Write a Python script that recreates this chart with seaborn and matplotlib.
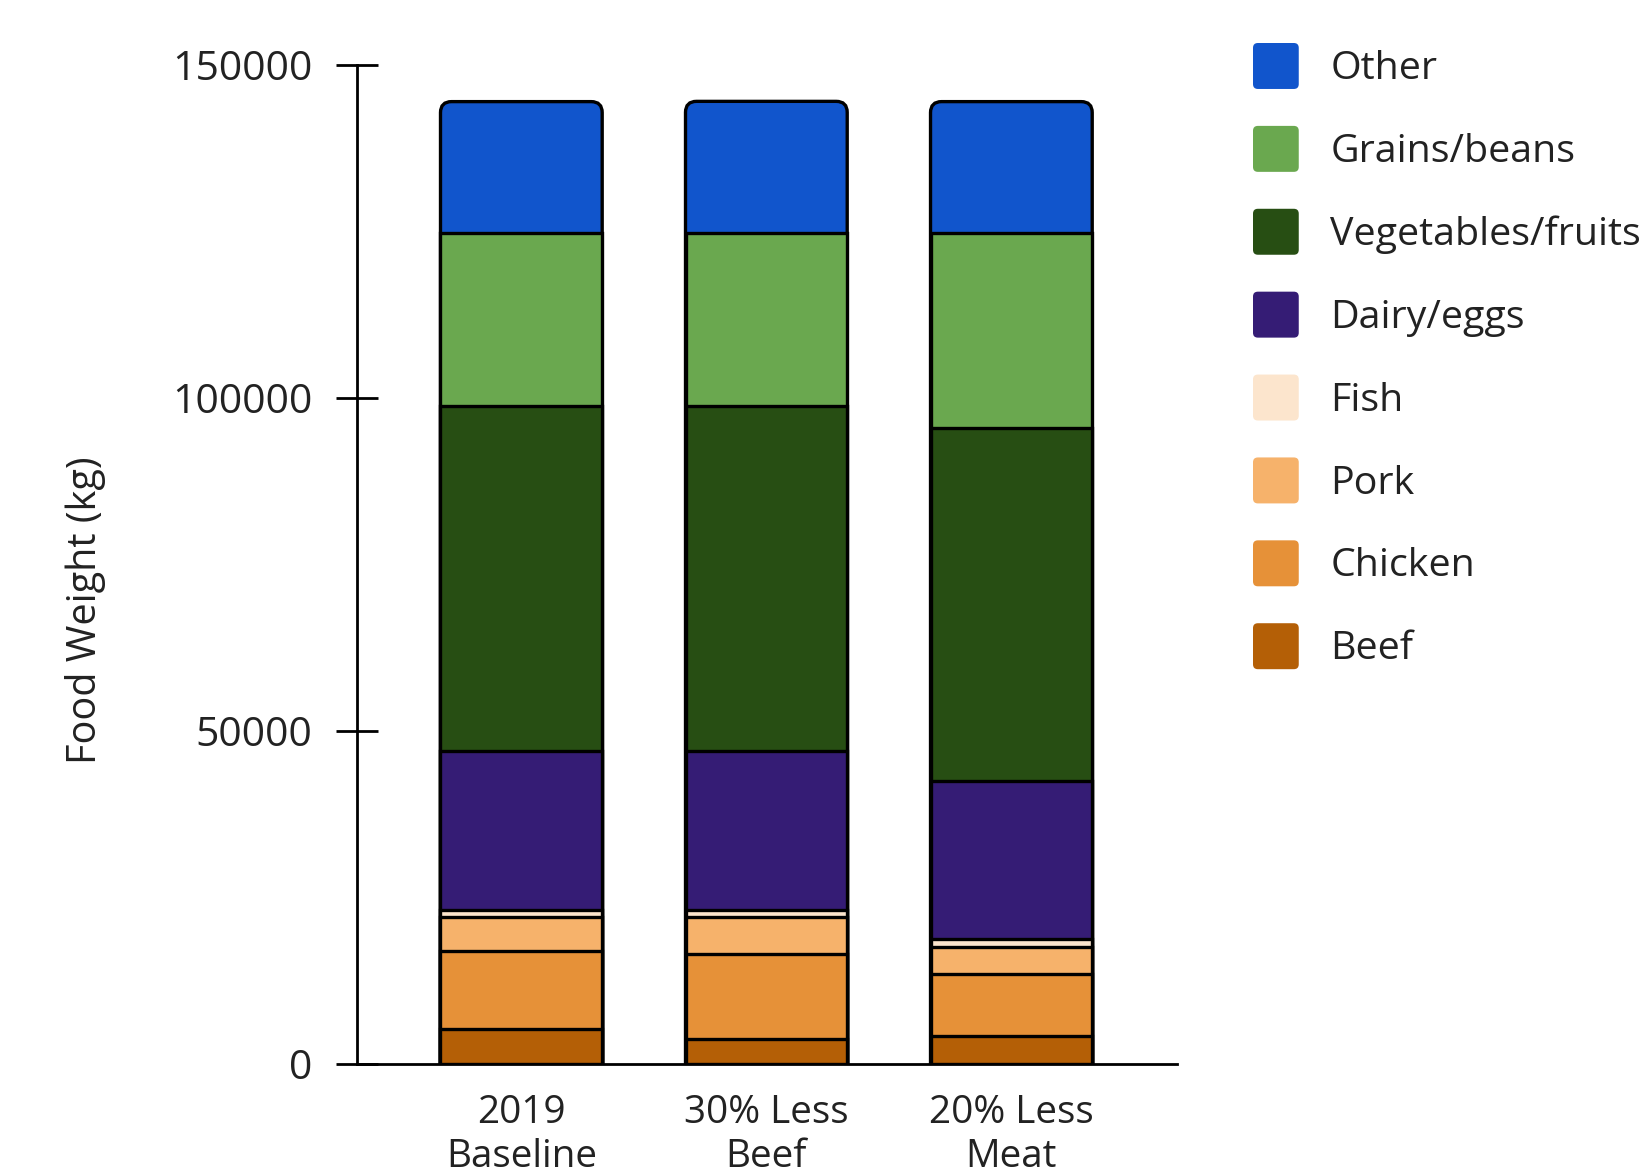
import matplotlib
matplotlib.use("Agg")
import matplotlib.pyplot as plt
import numpy as np
import pandas as pd
import seaborn as sns
from matplotlib.patches import FancyBboxPatch, Patch
from matplotlib.legend_handler import HandlerPatch

# ---- data ----
scenarios = ["2019\nBaseline", "30% Less\nBeef", "20% Less\nMeat"]
categories = ["Beef", "Chicken", "Pork", "Fish", "Dairy/eggs",
              "Vegetables/fruits", "Grains/beans", "Other"]
beef = [5200, 3640, 4160]
chicken = [11700, 12800, 9360]
pork = [5100, 5600, 4080]
fish = [1100, 1100, 1100]
dairy = [23800, 23800, 23800]
veg = [51900, 51900, 53000]
grains = [25900, 25900, 29200]
other = [19800, 19800, 19800]
yticks = [0, 50000, 100000, 150000]

colors = {
    "Other": "#1155CC",
    "Grains/beans": "#6AA84F",
    "Vegetables/fruits": "#274E13",
    "Dairy/eggs": "#351C75",
    "Fish": "#FCE5CD",
    "Pork": "#F6B26B",
    "Chicken": "#E69138",
    "Beef": "#B45F06",
}

sns.set_theme(style="white")
plt.rcParams["font.family"] = ["Open Sans", "DejaVu Sans"]

values = np.array([beef, chicken, pork, fish, dairy, veg, grains, other])
cum = np.cumsum(values, axis=0)
rows = []
for i, cat in enumerate(categories):
    for j, sc in enumerate(scenarios):
        rows.append({"scenario": sc, "category": cat, "cum": cum[i, j]})
df = pd.DataFrame(rows)

fig = plt.figure(figsize=(16.45, 11.69), dpi=100)
ax = fig.add_axes([356.7 / 1645, 1 - 1063.7 / 1169, (1177 - 356.7) / 1645, (1063.7 - 65) / 1169])

# draw from top layer downwards (each bar starts at 0 and covers the previous)
for cat in reversed(categories):
    sub = df[df["category"] == cat]
    n_before = len(ax.patches)
    sns.barplot(data=sub, x="scenario", y="cum", order=scenarios, color=colors[cat],
                saturation=1, edgecolor="black", linewidth=2.4, width=0.66,
                errorbar=None, ax=ax)
    if cat == "Other":
        new = ax.patches[n_before:]
        for j, p in enumerate(list(new)):
            x = p.get_x()
            w, h = p.get_width(), p.get_height()
            y0 = -20000  # rounded bottom corners fall outside the axes and are clipped
            p.remove()
            fb = FancyBboxPatch((x, y0), w, h - y0,
                                boxstyle="round,pad=0,rounding_size=0.045",
                                mutation_aspect=36800,
                                facecolor=colors[cat], edgecolor="black",
                                linewidth=2.4, zorder=0.9)
            ax.add_patch(fb)

ax.set_xlim(-0.672, 2.676)
ax.set_ylim(0, 150000)
ax.set_yticks(yticks)
ax.set_yticklabels([str(v) for v in yticks])
ax.set_xlabel("")
ax.set_ylabel("Food Weight (kg)", fontsize=28.5, color="#222222")
ax.yaxis.set_label_coords(-0.306, 0.454)

for s in ["top", "right"]:
    ax.spines[s].set_visible(False)
for s in ["left", "bottom"]:
    ax.spines[s].set_color("black")
    ax.spines[s].set_linewidth(2)
    ax.spines[s].set_zorder(5)

ax.tick_params(axis="y", direction="inout", length=30, width=2, color="black",
               labelsize=29.5, labelcolor="#222222", pad=17, left=True)
ax.tick_params(axis="x", length=0, labelsize=27.8, labelcolor="#222222", pad=22)
for lab in ax.get_xticklabels():
    lab.set_linespacing(1.2)


def rounded_handle(legend, orig_handle, xdescent, ydescent, width, height, fontsize):
    return FancyBboxPatch((-xdescent, -ydescent), width, height,
                          boxstyle="round,pad=0,rounding_size=3.5")


handles = [Patch(facecolor=colors[c], edgecolor="none", label=c) for c in reversed(categories)]
leg = fig.legend(handles=handles, loc="upper left",
                 bbox_to_anchor=(1253 / 1645, 1 - 43 / 1169),
                 frameon=False, fontsize=28.4, handlelength=1.16, handleheight=1.416,
                 labelspacing=0.936, handletextpad=0.8, borderpad=0, borderaxespad=0,
                 handler_map={Patch: HandlerPatch(patch_func=rounded_handle)})
for t in leg.get_texts():
    t.set_color("#222222")

fig.savefig("out.png", dpi=100)
